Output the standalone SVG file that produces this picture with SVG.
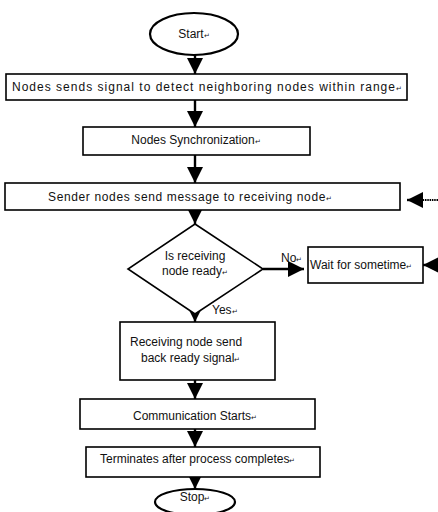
<svg xmlns="http://www.w3.org/2000/svg" width="438" height="512" viewBox="0 0 438 512">
<defs>
<style>
.box{fill:#fff;stroke:#000;stroke-width:1.6}
.ov{fill:#fff;stroke:#000;stroke-width:2.2}
.t{font-family:"Liberation Sans",Arial,sans-serif;font-size:12px;fill:#111}
.m{font-size:7px}
.ln{stroke:#000;stroke-width:2.4;fill:none}
.dl{stroke:#000;stroke-width:2;stroke-dasharray:1.5 0.8;fill:none}
</style>
<marker id="ahb" viewBox="0 0 10 10" refX="10" refY="5" markerWidth="16" markerHeight="16" markerUnits="userSpaceOnUse" orient="auto">
<path d="M0,0 L10,5 L0,10 z" fill="#000"/>
</marker>
</defs>
<rect width="438" height="512" fill="#fff"/>
<g id="connectors">
<line class="ln" x1="195" y1="55" x2="195" y2="74" marker-end="url(#ahb)"/>
<line class="ln" x1="195" y1="100" x2="195" y2="127" marker-end="url(#ahb)"/>
<line class="ln" x1="195" y1="155" x2="195" y2="183" marker-end="url(#ahb)"/>
<line class="dl" x1="438" y1="200" x2="418" y2="200"/>
<line class="ln" x1="421" y1="200" x2="407" y2="200" marker-end="url(#ahb)"/>
<line class="ln" x1="195" y1="210" x2="195" y2="224" marker-end="url(#ahb)"/>
<line class="ln" x1="263" y1="269" x2="304" y2="269" marker-end="url(#ahb)"/>
<line class="ln" x1="438" y1="265" x2="423" y2="265" marker-end="url(#ahb)"/>
<line class="ln" x1="195" y1="313" x2="195" y2="322" marker-end="url(#ahb)"/>
<line class="ln" x1="195" y1="380" x2="195" y2="399" marker-end="url(#ahb)"/>
<line class="ln" x1="195" y1="429" x2="195" y2="447" marker-end="url(#ahb)"/>
<line class="ln" x1="195" y1="477" x2="195" y2="489" marker-end="url(#ahb)"/>
<text class="t" x="281" y="262">No<tspan class="m">↵</tspan></text>
<text class="t" x="212" y="314">Yes<tspan class="m">↵</tspan></text>
</g>
<g id="start">
<ellipse class="ov" cx="194" cy="34" rx="44" ry="21"/>
<text class="t" x="194" y="38" text-anchor="middle">Start<tspan class="m">↵</tspan></text>
</g>
<g id="detect">
<rect class="box" x="6" y="74" width="401" height="26"/>
<text class="t" x="12" y="91" textLength="390">Nodes sends signal to detect neighboring nodes within range<tspan class="m">↵</tspan></text>
</g>
<g id="sync">
<rect class="box" x="83" y="127" width="227" height="28"/>
<text class="t" x="196" y="144" text-anchor="middle">Nodes Synchronization<tspan class="m">↵</tspan></text>
</g>
<g id="send">
<rect class="box" x="5" y="183" width="395" height="27"/>
<text class="t" x="48" y="201" textLength="284">Sender nodes send message to receiving node<tspan class="m">↵</tspan></text>
</g>
<g id="ready">
<polygon class="box" points="195,224 263,269 195,314 128,269"/>
<text class="t" x="195" y="260" text-anchor="middle">Is receiving</text>
<text class="t" x="195" y="275" text-anchor="middle">node ready<tspan class="m">↵</tspan></text>
</g>
<g id="wait">
<rect class="box" x="308" y="247" width="115" height="36"/>
<text class="t" x="310" y="269">Wait for sometime<tspan class="m">↵</tspan></text>
</g>
<g id="back">
<rect class="box" x="120" y="322" width="155" height="58"/>
<text class="t" x="130" y="346">Receiving node send</text>
<text class="t" x="141" y="362">back ready signal<tspan class="m">↵</tspan></text>
</g>
<g id="comm">
<rect class="box" x="80" y="399" width="235" height="30"/>
<text class="t" x="133" y="420">Communication Starts<tspan class="m">↵</tspan></text>
</g>
<g id="term">
<rect class="box" x="86" y="447" width="234" height="30"/>
<text class="t" x="100" y="463">Terminates after process completes<tspan class="m">↵</tspan></text>
</g>
<g id="stop">
<ellipse class="ov" cx="195" cy="502" rx="40" ry="13"/>
<text class="t" x="195" y="501" text-anchor="middle">Stop<tspan class="m">↵</tspan></text>
</g>
</svg>
